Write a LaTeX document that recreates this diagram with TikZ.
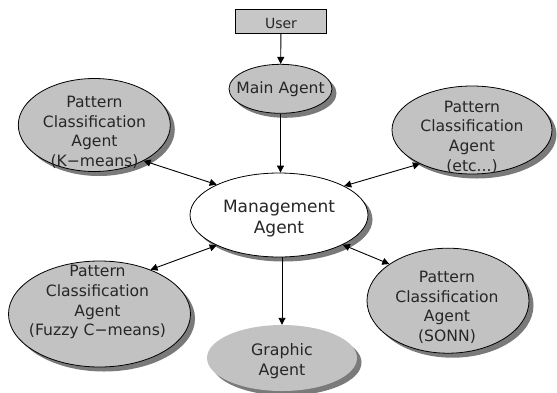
\documentclass[tikz,border=0pt]{standalone}
\usepackage{fontspec}
\setmainfont{DejaVu Sans}
\usetikzlibrary{shapes.geometric,shadows,arrows.meta}
\begin{document}
\begin{tikzpicture}[x=1pt,y=-1pt,
  shade/.style={drop shadow={shadow xshift=4.5pt,shadow yshift=-4.5pt,fill=black!52,opacity=1}},
  agent/.style={ellipse,draw=black,line width=0.8pt,fill=black!24,inner sep=0pt,shade},
  lbl/.style={align=center,inner sep=0pt,text=black!85,font=\fontsize{15.6}{19.6}\selectfont},
  arr/.style={line width=0.9pt,-{Triangle[length=7pt,width=7pt]}},
  darr/.style={line width=0.9pt,{Triangle[length=7pt,width=7pt]}-{Triangle[length=7pt,width=7pt]}}]
\useasboundingbox (0,0) rectangle (557,392);
% user box
\node[draw=black,line width=0.8pt,fill=black!22,minimum width=91pt,minimum height=24pt,
      text height=14pt,text depth=0pt,text=black!85,font=\fontsize{14}{16}\selectfont] (user) at (281,21.3) {User};
% ellipses
\node[agent,minimum width=103pt,minimum height=49pt] (main) at (280.5,88.8) {};
\node[agent,minimum width=178pt,minimum height=84pt,fill=white] (mgmt) at (279,215) {};
\node[agent,minimum width=152pt,minimum height=93pt] (km) at (94.3,125) {};
\node[agent,minimum width=160pt,minimum height=88pt] (etc) at (472,130) {};
\node[agent,minimum width=182pt,minimum height=106pt] (fcm) at (99.5,314) {};
\node[agent,minimum width=162pt,minimum height=105pt] (sonn) at (448,300.7) {};
\node[ellipse,draw=none,fill=black!24,inner sep=0pt,shade,minimum width=150pt,minimum height=66pt] (gra) at (282,358) {};
% texts
\node[lbl] (maint) at (280.5,89.6) {Main Agent};
\node[lbl,font=\fontsize{17}{20.7}\selectfont] (mgmtt) at (279,218.7) {Management\\Agent};
\node[lbl] (kmt) at (94.5,132.2) {Pattern\\Classification\\Agent\\(K−means)};
\node[lbl] (etct) at (472,137) {Pattern\\Classification\\Agent\\(etc...)};
\node[lbl] (fcmt) at (97.5,302.2) {Pattern\\Classification\\Agent\\(Fuzzy C−means)};
\node[lbl] (sonnt) at (447,307.5) {Pattern\\Classification\\Agent\\(SONN)};
\node[lbl,font=\fontsize{15.8}{20}\selectfont] (grat) at (282,361) {Graphic\\Agent};
% connectors
\draw[arr] (user) -- (main);
\draw[arr] (main.south) -- (main.south |- mgmt.north);
\draw[arr] (mgmt.south -| gra.north) -- (gra.north);
\draw[darr] (km.324) -- (mgmt.154);
\draw[darr] (etc.213) -- (mgmt.24);
\draw[darr] (fcm.41) -- (mgmt.206);
\draw[darr] (sonn.148) -- (mgmt.335);
\end{tikzpicture}
\end{document}
